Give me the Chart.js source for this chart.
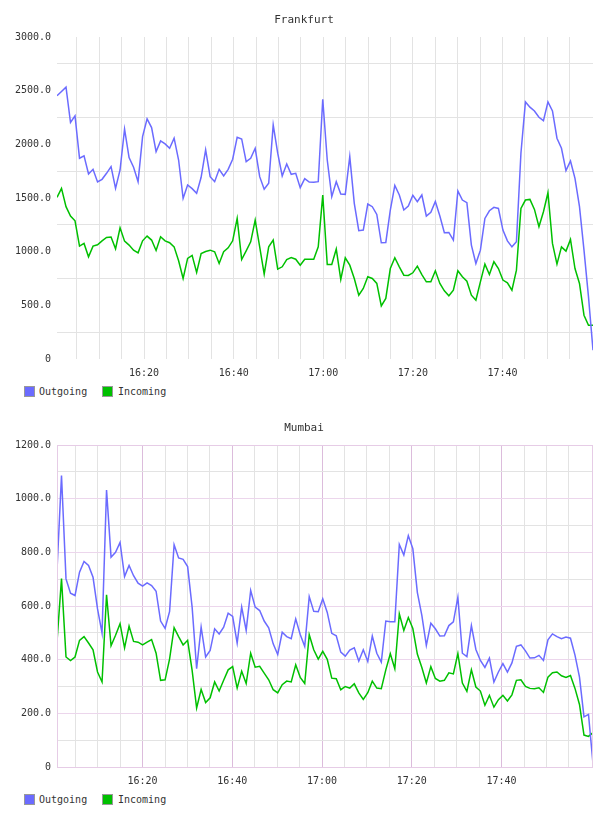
<!DOCTYPE html>
<html><head><meta charset="utf-8">
<script src="https://cdn.jsdelivr.net/npm/chart.js@4.4.1/dist/chart.umd.min.js"></script>
<style>
html,body{margin:0;padding:0;background:#fff;}
body{width:608px;height:816px;position:relative;overflow:hidden;font-family:"DejaVu Sans Mono",monospace;}
.block{position:absolute;left:0;width:608px;height:408px;}
.block canvas{position:absolute;left:0;top:0;}
.lgtext{position:absolute;top:386px;font-size:10px;line-height:12px;color:#333;white-space:nowrap;}
.box{position:absolute;top:386px;width:9px;height:9px;border:1px solid #999;}
</style></head>
<body>
<div class="block" style="top:0px">
  <canvas id="c1" width="608" height="380"></canvas>
  <div class="box" style="left:24px;background:#6b6bff"></div><div class="lgtext" style="left:39px">Outgoing</div>
  <div class="box" style="left:102px;background:#00c000"></div><div class="lgtext" style="left:118px">Incoming</div>
</div>
<div class="block" style="top:408px">
  <canvas id="c2" width="608" height="380"></canvas>
  <div class="box" style="left:24px;background:#6b6bff"></div><div class="lgtext" style="left:39px">Outgoing</div>
  <div class="box" style="left:102px;background:#00c000"></div><div class="lgtext" style="left:118px">Incoming</div>
</div>
<script>
// ---- data (one sample per ~minute, starting just after 16:00) ----
const SERIES_NAMES = ['Outgoing', 'Incoming'];
const X_LABELS = ['16:20', '16:40', '17:00', '17:20', '17:40'];
const X_LABEL_MINUTES = [20, 40, 60, 80, 100];

const FRA_TITLE = 'Frankfurt';
const FRA_START_MIN = 0.56, FRA_STEP_MIN = 1.0054;
const FRA_OUT = [2452,2492,2533,2203,2265,1870,1892,1724,1767,1649,
1674,1730,1792,1590,1761,2141,1876,1786,1652,2072,
2237,2156,1932,2032,2004,1963,2057,1854,1496,1621,
1587,1543,1693,1948,1699,1652,1767,1705,1767,1861,
2066,2050,1839,1870,1963,1699,1581,1637,2181,1917,
1705,1817,1721,1730,1596,1680,1649,1646,1652,2420,
1854,1512,1652,1537,1534,1886,1450,1195,1201,1444,
1419,1347,1083,1086,1388,1618,1528,1388,1425,1525,
1465,1528,1332,1366,1468,1332,1176,1179,1108,1565,
1481,1456,1061,890,1014,1310,1381,1413,1403,1201,
1101,1045,1092,1917,2395,2346,2311,2252,2221,2395,
2311,2057,1963,1755,1845,1683,1419,1014,579,81];
const FRA_IN = [1506,1590,1419,1332,1288,1052,1077,952,1052,1064,
1101,1132,1136,1027,1223,1098,1061,1014,989,1101,
1145,1108,1011,1139,1101,1083,1045,915,750,937,
965,806,983,1002,1014,999,890,999,1036,1101,
1310,927,1008,1092,1294,1045,791,1045,1108,837,
859,927,946,930,874,930,930,930,1045,1527,
880,880,1024,741,943,874,750,595,657,766,
750,704,495,564,843,943,859,781,778,803,
865,787,719,719,822,704,635,589,641,822,
766,725,595,548,719,884,787,906,843,735,
710,641,828,1403,1481,1487,1394,1232,1372,1549,
1077,884,1045,1005,1114,843,704,408,314,314];
const FRA_Y_MAX = 3000, FRA_Y_STEP = 250, FRA_Y_LABEL_STEP = 500;

const MUM_TITLE = 'Mumbai';
const MUM_START_MIN = 0.93, MUM_STEP_MIN = 1.0037;
const MUM_OUT = [732,1086,701,648,639,726,766,751,707,589,
499,1032,782,800,837,710,751,713,685,674,
686,676,655,544,517,580,828,779,774,747,
596,366,521,410,434,515,496,521,573,561,
462,596,509,658,596,583,544,519,459,419,
502,486,478,552,494,449,635,580,579,627,
576,498,489,428,413,436,444,395,437,393,
488,424,391,544,541,541,829,790,862,814,
651,565,453,536,515,488,489,527,541,633,
424,411,527,438,397,371,406,317,354,385,
354,388,450,455,433,406,407,416,397,474,
496,486,478,484,480,417,335,187,196,12];
const MUM_IN = [467,702,410,397,410,472,486,462,437,354,
317,642,452,491,534,444,525,468,465,455,
465,475,424,323,325,403,519,486,455,472,
360,220,289,240,258,317,283,323,362,374,
294,357,311,424,372,375,350,325,288,276,
307,320,317,381,334,311,493,437,402,431,
401,331,329,288,300,294,310,276,252,277,
320,294,292,362,422,366,571,509,557,516,
421,371,313,374,330,320,323,351,347,423,
313,282,362,298,283,230,267,223,251,267,
246,269,323,325,300,293,292,295,278,335,
351,354,340,334,341,293,233,119,114,128];
const MUM_Y_MAX = 1200, MUM_Y_STEP = 100, MUM_Y_LABEL_STEP = 200;

// ---- styling ----
const FONT = '"DejaVu Sans Mono", monospace';
const BLUE = '#6b6bff', GREEN = '#00c000';
const GRID_GRAY = '#e3e3e3';
const MUM_MAJOR_H = '#ecd6ec', MUM_MAJOR_V = '#dcbcdc', MUM_BORDER = '#e6cce6';

function toPoints(values, start, step) {
  return values.map((v, i) => ({x: start + i * step, y: v}));
}
function yLabel(v, labelStep) {
  if (v % labelStep !== 0) return '';
  return v === 0 ? '0' : v.toFixed(1);
}
function xLabel(v) {
  const i = X_LABEL_MINUTES.indexOf(Math.round(v));
  return i >= 0 && Math.abs(v - X_LABEL_MINUTES[i]) < 1e-6 ? X_LABELS[i] : '';
}

function makeChart(id, title, outVals, inVals, start, step, yMax, yStep, yLabelStep, mumbaiStyle) {
  const xMin = start, xMax = start + (outVals.length - 1) * step;
  const borderPlugin = {
    id: 'frame',
    afterDraw(chart) {
      if (!mumbaiStyle) return;
      const a = chart.chartArea, c = chart.ctx;
      c.save(); c.strokeStyle = MUM_BORDER; c.lineWidth = 1;
      c.strokeRect(Math.round(a.left) + 0.5, Math.round(a.top) + 0.5, Math.round(a.right - a.left) - 1, Math.round(a.bottom - a.top));
      c.restore();
    }
  };
  return new Chart(document.getElementById(id), {
    type: 'line',
    data: {
      datasets: [
        {label: SERIES_NAMES[0], data: toPoints(outVals, start, step), borderColor: BLUE, backgroundColor: BLUE, borderWidth: 1.5, pointRadius: 0, tension: 0, fill: false},
        {label: SERIES_NAMES[1], data: toPoints(inVals, start, step), borderColor: GREEN, backgroundColor: GREEN, borderWidth: 1.5, pointRadius: 0, tension: 0, fill: false}
      ]
    },
    options: {
      responsive: false, animation: false, devicePixelRatio: 1,
      layout: {padding: {left: 0, right: 0, top: 0, bottom: 0}},
      plugins: {
        legend: {display: false},
        tooltip: {enabled: false},
        title: {display: true, text: title, color: '#333', font: {family: FONT, size: 11, weight: 'normal'}, padding: {top: 13.4, bottom: 10.4}}
      },
      scales: {
        x: {
          type: 'linear', min: xMin, max: xMax,
          afterBuildTicks(scale) {
            const t = [];
            for (let m = 5; m <= xMax; m += 5) if (m >= xMin && m < xMax - 1.5) t.push({value: m});
            scale.ticks = t;
          },
          afterFit(scale) { scale.height = 21; },
          border: {display: false},
          grid: {drawTicks: false, lineWidth: 1,
            color: c => mumbaiStyle ? ((c.tick && c.tick.value % 20 === 0) ? MUM_MAJOR_V : GRID_GRAY) : GRID_GRAY},
          ticks: {padding: 8, autoSkip: false, maxRotation: 0, color: '#333', font: {family: FONT, size: 10},
            callback: v => xLabel(v)}
        },
        y: {
          type: 'linear', min: 0, max: yMax,
          afterBuildTicks(scale) {
            const t = [];
            for (let v = 0; v <= yMax; v += yStep) t.push({value: v});
            scale.ticks = t;
          },
          afterFit(scale) { scale.width = 57; },
          border: {display: false},
          grid: {drawTicks: false, lineWidth: 1,
            color: c => {
              const v = c.tick ? c.tick.value : 0;
              if (mumbaiStyle) return v % yLabelStep === 0 ? MUM_MAJOR_H : GRID_GRAY;
              return v % yLabelStep === 0 ? 'rgba(0,0,0,0)' : GRID_GRAY;
            }},
          ticks: {padding: 6, color: '#333', font: {family: FONT, size: 10},
            callback: v => yLabel(v, yLabelStep)}
        },
        yRightGutter: {
          type: 'linear', position: 'right', min: 0, max: 1,
          afterFit(scale) { scale.width = 15; },
          border: {display: false},
          grid: {display: false, drawTicks: false},
          ticks: {display: false}
        }
      }
    },
    plugins: [borderPlugin]
  });
}

makeChart('c1', FRA_TITLE, FRA_OUT, FRA_IN, FRA_START_MIN, FRA_STEP_MIN, FRA_Y_MAX, FRA_Y_STEP, FRA_Y_LABEL_STEP, false);
makeChart('c2', MUM_TITLE, MUM_OUT, MUM_IN, MUM_START_MIN, MUM_STEP_MIN, MUM_Y_MAX, MUM_Y_STEP, MUM_Y_LABEL_STEP, true);
</script>
</body></html>
